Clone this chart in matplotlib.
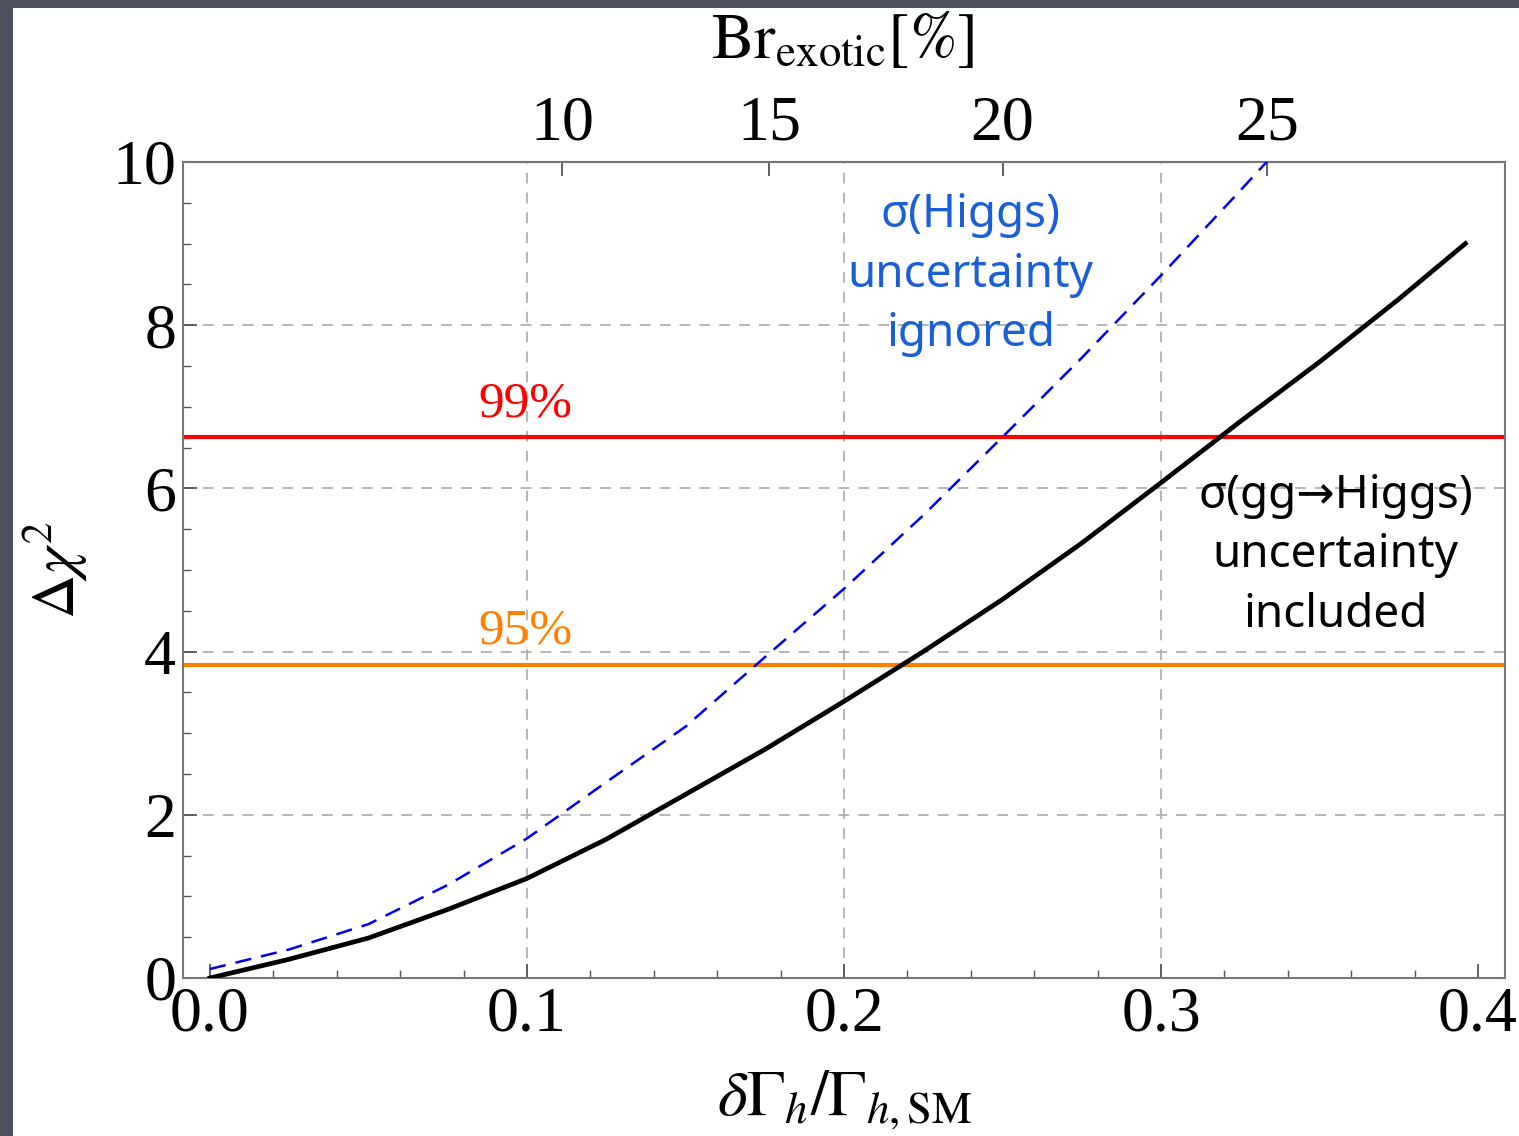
"""
Δχ² 随 δΓh/Γh,SM 变化曲线（上轴为 Br_exotic）
"""

import numpy as np
import matplotlib
matplotlib.use("Agg")
import matplotlib.pyplot as plt
from matplotlib.patches import Rectangle

plt.rcParams["font.family"] = ["Liberation Serif", "DejaVu Serif"]
plt.rcParams["mathtext.fontset"] = "stix"

# ========== 数据 ==========

# σ(gg→Higgs) 不确定度计入（黑色实线）
x_incl = [0.0, 0.025, 0.05, 0.075, 0.10, 0.125, 0.15, 0.175, 0.20,
          0.225, 0.25, 0.275, 0.30, 0.325, 0.35, 0.375, 0.396]
chi2_incl = [0.0, 0.23, 0.49, 0.84, 1.22, 1.70, 2.25, 2.80, 3.39,
             4.00, 4.64, 5.33, 6.07, 6.82, 7.55, 8.32, 9.0]

# σ(Higgs) 不确定度忽略（蓝色虚线）
x_ign = [0.0, 0.025, 0.05, 0.075, 0.10, 0.125, 0.15, 0.175, 0.20,
         0.225, 0.25, 0.275, 0.30, 0.325, 0.3333, 0.34]
chi2_ign = [0.11, 0.35, 0.66, 1.14, 1.71, 2.40, 3.08, 3.93, 4.77,
            5.67, 6.63, 7.60, 8.61, 9.65, 10.0, 10.3]

# 置信水平
cl_values = [3.84, 6.63]
cl_labels = ["95%", "99%"]
cl_colors = ["#ff8000", "#ff0000"]

# 上轴刻度（Br_exotic [%]）
br_ticks = [10, 15, 20, 25]

grid_x = [0.1, 0.2, 0.3]
grid_y = [2, 4, 6, 8]


def to_br(x):
    return 100.0 * x / (1.0 + x)


def from_br(b):
    return b / (100.0 - b)


fig = plt.figure(figsize=(15.19, 11.36), dpi=100)
fig.patch.set_facecolor("#4d525e")
# 白色面板（左、上留出深灰边）
fig.add_artist(Rectangle((13 / 1519, 0), 1, 1 - 8 / 1136,
                         transform=fig.transFigure, facecolor="white",
                         edgecolor="none", zorder=-10))

ax = fig.add_axes([183 / 1519, 158 / 1136, 1322 / 1519, 816 / 1136])
ax.set_xlim(-0.0085, 0.4085)
ax.set_ylim(0, 10)

for gx in grid_x:
    ax.axvline(gx, color="#b0b0b0", lw=1.3, ls=(0, (6, 5)), zorder=1)
for gy in grid_y:
    ax.axhline(gy, color="#b0b0b0", lw=1.3, ls=(0, (6, 5)), zorder=1)

for val, lab, col in zip(cl_values, cl_labels, cl_colors):
    ax.axhline(val, color=col, lw=3, zorder=2)
    ax.text(0.0994, val + 0.12, lab, color=col, fontsize=37,
            ha="center", va="bottom")

ax.plot(x_ign, chi2_ign, color="#0000ee", lw=1.8, ls=(0, (6.5, 4)), zorder=3)
ax.plot(x_incl, chi2_incl, color="black", lw=3.4, zorder=4)

ax.text(0.24, 8.62, "σ(Higgs)\nuncertainty\nignored", color="#1a5fd6",
        fontsize=33, ha="center", va="center", linespacing=1.38,
        family=["Noto Sans", "DejaVu Sans"])
ax.text(0.355, 5.18, "σ(gg→Higgs)\nuncertainty\nincluded", color="black",
        fontsize=33, ha="center", va="center", linespacing=1.38,
        family=["Noto Sans", "DejaVu Sans"])

# 坐标轴样式
for sp in ax.spines.values():
    sp.set_color("#777777")
    sp.set_linewidth(1.5)

ax.set_xticks([0.0, 0.1, 0.2, 0.3, 0.4])
ax.set_xticklabels(["0.0", "0.1", "0.2", "0.3", "0.4"])
ax.set_xticks(np.arange(0.0, 0.41, 0.02), minor=True)
ax.set_yticks([0, 2, 4, 6, 8, 10])
ax.set_yticks(np.arange(0, 10.01, 0.5), minor=True)
ax.tick_params(which="both", direction="in", top=False, right=False,
               color="#555555", labelsize=46)
ax.tick_params(which="major", length=10, width=1.3)
ax.tick_params(which="minor", length=6, width=1.0)
ax.tick_params(axis="x", pad=6)
ax.tick_params(axis="y", pad=5)

ax.set_xlabel(r"$\delta\Gamma_h/\Gamma_{h,\mathrm{SM}}$", fontsize=46,
              labelpad=18)
ax.set_ylabel(r"$\Delta\chi^2$", fontsize=44, labelpad=16)

top = ax.secondary_xaxis("top", functions=(to_br, from_br))
top.set_xticks(br_ticks)
top.set_xticklabels([str(b) for b in br_ticks])
top.tick_params(direction="in", length=10, width=1.3, color="#555555",
                labelsize=46, pad=6)
top.xaxis.set_minor_locator(matplotlib.ticker.NullLocator())
top.spines["top"].set_color("#777777")
top.spines["top"].set_linewidth(1.5)

fig.text(843 / 1519, 1 - 42 / 1136, r"$\mathrm{Br}_{\mathrm{exotic}}[\%]$",
         fontsize=46, ha="center", va="center")

fig.savefig("out.png", dpi=100, facecolor=fig.get_facecolor())
